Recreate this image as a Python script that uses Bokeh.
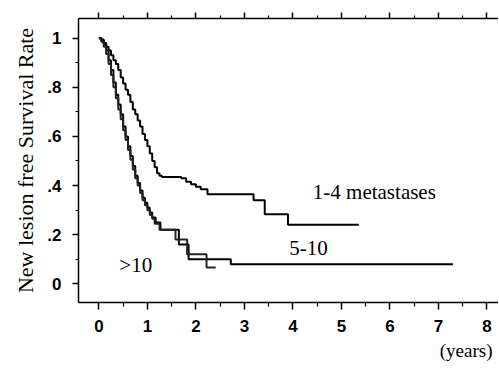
from bokeh.plotting import figure
from bokeh.models import FixedTicker, LinearAxis, Title, Range1d
from bokeh.embed import file_html
from bokeh.resources import INLINE
from bokeh.core.properties import value

# Kaplan-Meier step data (time in years, survival rate)
t_1_4 = [0, 0.05, 0.1, 0.15, 0.2, 0.25, 0.3, 0.35, 0.4, 0.45, 0.5, 0.55, 0.6, 0.65, 0.7, 0.75, 0.8, 0.85, 0.9, 0.95, 1.0, 1.05, 1.1, 1.15, 1.2, 1.25, 1.3, 1.7, 1.8, 1.9, 2.0, 2.1, 2.24, 3.19, 3.42, 3.9, 5.36]
s_1_4 = [1.0, 0.995, 0.98, 0.965, 0.95, 0.93, 0.91, 0.895, 0.87, 0.84, 0.815, 0.79, 0.77, 0.74, 0.71, 0.69, 0.665, 0.64, 0.61, 0.585, 0.56, 0.53, 0.5, 0.475, 0.45, 0.44, 0.435, 0.43, 0.415, 0.405, 0.395, 0.385, 0.365, 0.34, 0.283, 0.24, 0.24]

t_5_10 = [0, 0.05, 0.1, 0.15, 0.2, 0.25, 0.3, 0.35, 0.4, 0.45, 0.5, 0.55, 0.6, 0.65, 0.7, 0.75, 0.8, 0.85, 0.9, 0.95, 1.0, 1.05, 1.1, 1.17, 1.27, 1.65, 1.85, 2.72, 7.3]
s_5_10 = [1.0, 0.99, 0.975, 0.95, 0.91, 0.87, 0.82, 0.77, 0.73, 0.69, 0.64, 0.6, 0.56, 0.52, 0.48, 0.44, 0.41, 0.38, 0.35, 0.33, 0.31, 0.29, 0.27, 0.25, 0.22, 0.16, 0.10, 0.08, 0.08]

t_gt10 = [0, 0.05, 0.1, 0.15, 0.2, 0.25, 0.3, 0.35, 0.4, 0.45, 0.5, 0.55, 0.6, 0.65, 0.7, 0.75, 0.8, 0.85, 0.9, 0.95, 1.0, 1.05, 1.1, 1.15, 1.25, 1.58, 1.82, 2.22, 2.41]
s_gt10 = [1.0, 0.985, 0.965, 0.935, 0.895, 0.85, 0.8, 0.755, 0.71, 0.67, 0.625, 0.585, 0.545, 0.505, 0.465, 0.43, 0.4, 0.37, 0.34, 0.32, 0.3, 0.28, 0.265, 0.245, 0.22, 0.18, 0.12, 0.066, 0.066]

label_text = ["1-4 metastases", "5-10", ">10"]
label_x = [5.68, 4.32, 0.76]
label_y = [0.373, 0.144, 0.075]

x_ticks = [0, 1, 2, 3, 4, 5, 6, 7, 8]
x_minor = [0.5, 1.5, 2.5, 3.5, 4.5, 5.5, 6.5, 7.5]
y_ticks = [0, 0.2, 0.4, 0.6, 0.8, 1]
y_minor = [0.1, 0.3, 0.5, 0.7, 0.9]
y_tick_labels = ["0", ".2", ".4", ".6", ".8", "1"]

p = figure(width=498, height=368, output_backend="svg", toolbar_location=None,
           x_range=Range1d(-0.42, 8.24), y_range=Range1d(-0.076, 1.08),
           x_axis_location=None, y_axis_location=None)
p.min_border_left = 78
p.min_border_right = 0
p.min_border_top = 18
p.min_border_bottom = 66
p.outline_line_color = None
p.grid.visible = False
p.background_fill_color = "white"

serif = value("Liberation Serif")

def style_axis(ax, major, minor):
    ax.ticker = FixedTicker(ticks=major, minor_ticks=minor)
    ax.axis_line_color = "black"
    ax.axis_line_width = 1.5
    ax.major_tick_line_color = "black"
    ax.minor_tick_line_color = "black"
    ax.major_tick_line_width = 1.5
    ax.minor_tick_line_width = 1.2
    ax.major_tick_in = 0
    ax.minor_tick_in = 0
    ax.major_label_text_font = "Liberation Sans"
    ax.major_label_text_font_style = "bold"
    ax.major_label_text_font_size = "17px"
    ax.major_label_text_color = "black"

bottom = LinearAxis()
style_axis(bottom, x_ticks, x_minor)
bottom.major_tick_out = 7
bottom.minor_tick_out = 4
bottom.major_label_standoff = 10
p.add_layout(bottom, "below")

top = LinearAxis()
style_axis(top, x_ticks, x_minor)
top.major_tick_out = 6
top.minor_tick_out = 3
top.major_label_overrides = {k: "" for k in x_ticks}
top.major_label_text_font_size = "1px"
top.major_label_standoff = 0
p.add_layout(top, "above")

left = LinearAxis()
style_axis(left, y_ticks, y_minor)
left.major_tick_out = 6
left.minor_tick_out = 3
left.major_label_standoff = 11
left.major_label_overrides = {k: v for k, v in zip(y_ticks, y_tick_labels)}
left.axis_label = "New lesion free Survival Rate"
left.axis_label_text_font = "Liberation Serif"
left.axis_label_text_font_style = "normal"
left.axis_label_text_font_size = "22px"
left.axis_label_text_color = "black"
left.axis_label_standoff = 6
p.add_layout(left, "left")

p.step(t_1_4, s_1_4, mode="after", line_color="black", line_width=2)
p.step(t_5_10, s_5_10, mode="after", line_color="black", line_width=2)
p.step(t_gt10, s_gt10, mode="after", line_color="#222222", line_width=2)

p.text(x=label_x, y=label_y, text=label_text, text_font=serif, text_font_size="21px",
       text_align="center", text_baseline="middle", text_color="black")

p.add_layout(Title(text="(years)", align="right", offset=6, text_font="Liberation Serif",
                   text_font_size="19px", text_font_style="normal", text_color="black",
                   standoff=6), "below")

open("out.html", "w").write(file_html(p, INLINE))
